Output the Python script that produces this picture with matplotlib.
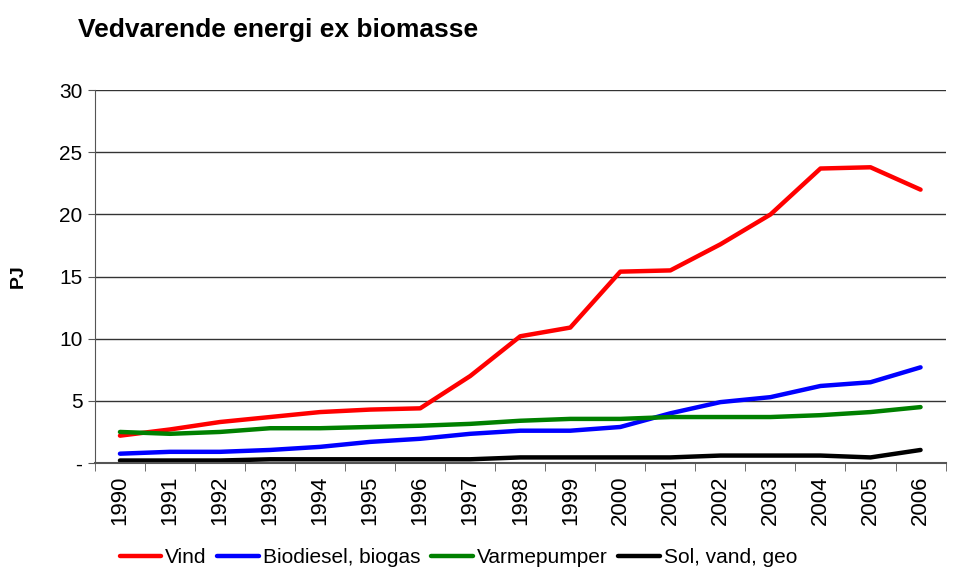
import matplotlib.pyplot as plt
import numpy as np

plt.rcParams['font.family'] = ['Liberation Sans', 'DejaVu Sans']

years = [str(y) for y in range(1990, 2007)]
vind = [2.2, 2.7, 3.3, 3.7, 4.1, 4.3, 4.4, 7.0, 10.2, 10.9, 15.4, 15.5, 17.6, 20.0, 23.7, 23.8, 22.0]
biodiesel = [0.75, 0.9, 0.9, 1.05, 1.3, 1.7, 1.95, 2.35, 2.6, 2.6, 2.9, 4.0, 4.9, 5.3, 6.2, 6.5, 7.7]
varmepumper = [2.5, 2.35, 2.5, 2.8, 2.8, 2.9, 3.0, 3.15, 3.4, 3.55, 3.55, 3.7, 3.7, 3.7, 3.85, 4.1, 4.5]
sol = [0.2, 0.2, 0.2, 0.3, 0.3, 0.3, 0.3, 0.3, 0.45, 0.45, 0.45, 0.45, 0.6, 0.6, 0.6, 0.45, 1.05]

series = [
    ('Vind', vind, '#ff0000'),
    ('Biodiesel, biogas', biodiesel, '#0000ff'),
    ('Varmepumper', varmepumper, '#008000'),
    ('Sol, vand, geo', sol, '#000000'),
]

fig = plt.figure(figsize=(9.59, 5.70), dpi=100)
ax = fig.add_axes([0.099, 0.1877, 0.887, 0.654])

x = np.arange(len(years))
for name, vals, col in series:
    ax.plot(x, vals, color=col, lw=3.2, label=name, solid_capstyle='round')

ax.set_xlim(-0.5, len(years) - 0.5)
ax.set_ylim(0, 30)
ax.set_yticks([0, 5, 10, 15, 20, 25, 30])
ax.set_yticklabels(['-', '5', '10', '15', '20', '25', '30'], fontsize=15)
ax.set_xticks(x)
ax.set_xticklabels(years, rotation=90, fontsize=16)
ax.set_xticks(np.arange(-0.5, len(years)), minor=True)
ax.tick_params(axis='x', which='major', length=0, pad=9)
ax.tick_params(axis='x', which='minor', length=6, color='#555555')
ax.tick_params(axis='y', length=5, color='#555555', pad=4)

ax.grid(axis='y', color='#333333', lw=1)
ax.set_axisbelow(True)
for s in ['top', 'right']:
    ax.spines[s].set_visible(False)
ax.spines['left'].set_color('#555555')
ax.spines['bottom'].set_color('#555555')
ax.spines['bottom'].set_linewidth(1.5)

fig.text(0.019, 0.515, 'PJ', fontsize=14, fontweight='bold', rotation=90,
         ha='center', va='center')
fig.text(0.081, 0.935, 'Vedvarende energi ex biomasse', fontsize=19, fontweight='bold')

fig.legend(loc='center', bbox_to_anchor=(0.478, 0.022), ncol=4, frameon=False,
           fontsize=15, handlelength=2.0, handletextpad=0.2, columnspacing=0.5)

fig.savefig('out.png', dpi=100)
